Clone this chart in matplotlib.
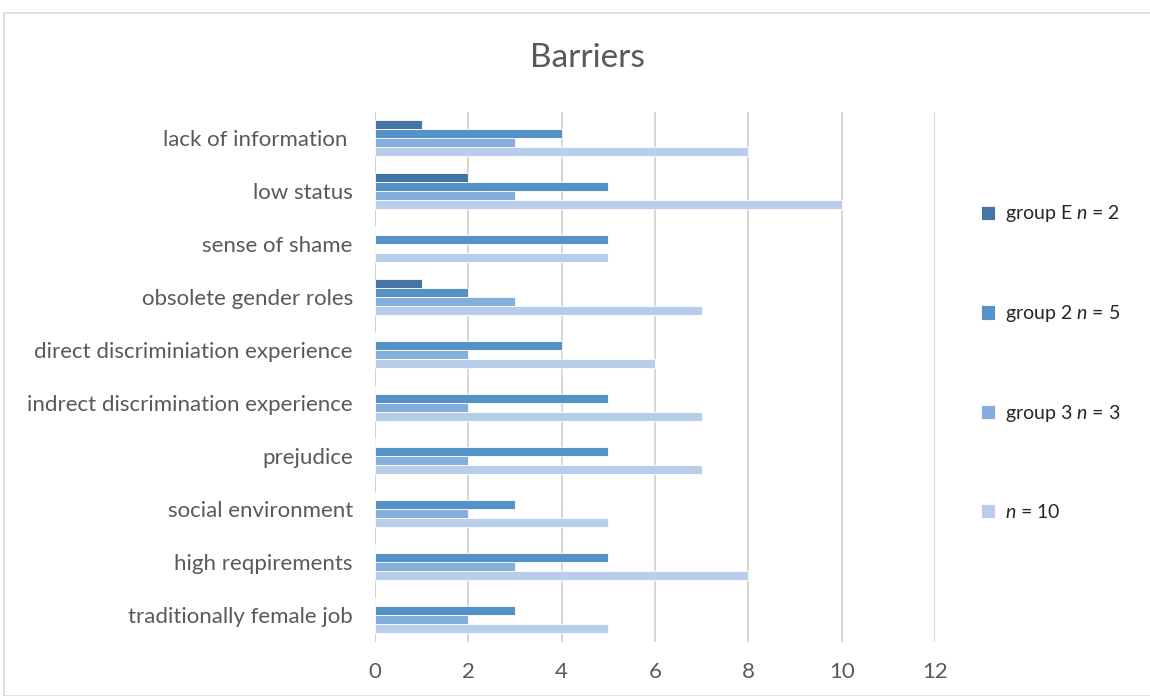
import numpy as np
import matplotlib
matplotlib.use('Agg')
import matplotlib.pyplot as plt
from matplotlib.patches import Rectangle

plt.rcParams['font.family'] = ['Lato', 'DejaVu Sans']
plt.rcParams['mathtext.fontset'] = 'custom'
plt.rcParams['mathtext.it'] = 'Lato:italic'
plt.rcParams['mathtext.rm'] = 'Lato'

categories = ['lack of information ', 'low status', 'sense of shame', 'obsolete gender roles',
              'direct discriminiation experience', 'indrect discrimination experience',
              'prejudice', 'social environment', 'high reqpirements', 'traditionally female job']
group_e = [1, 2, 0, 1, 0, 0, 0, 0, 0, 0]
group_2 = [4, 5, 5, 2, 4, 5, 5, 3, 5, 3]
group_3 = [3, 3, 0, 3, 2, 2, 2, 2, 3, 2]
n_10 = [8, 10, 5, 7, 6, 7, 7, 5, 8, 5]
labels = [r'group E $\mathit{n}$ = 2', r'group 2 $\mathit{n}$ = 5',
          r'group 3 $\mathit{n}$ = 3', r'$\mathit{n}$ = 10']
colors = ['#4674a5', '#5592c8', '#84afdc', '#b8cde9']

fig = plt.figure(figsize=(11.5, 6.96), dpi=100)
fig.patches.append(Rectangle((4/1150, 0), 1.2, 1-13/696, transform=fig.transFigure,
                             fill=False, edgecolor='#d9d9d9', lw=1.2))
ax = fig.add_axes([375/1150, 1-641.5/696, 560/1150, 530/696])

y = np.arange(len(categories))
h = 0.17
series = [group_e, group_2, group_3, n_10]
for k, vals in enumerate(series):
    ax.barh(y + (k-1.5)*h, vals, height=h, color=colors[k], edgecolor='white',
            linewidth=0.6, label=labels[k], zorder=3)

ax.set_xlim(0, 12)
ax.set_ylim(len(categories)-0.5, -0.5)
ax.set_xticks(range(0, 13, 2))
ax.set_yticks(y)
ax.set_yticklabels(categories)
ax.tick_params(axis='both', length=0, labelsize=16, colors='#595959')
ax.tick_params(axis='y', pad=16)
ax.tick_params(axis='x', pad=15)
ax.grid(axis='x', color='#d0d0d0', lw=1.2, zorder=0)
for s in ax.spines.values():
    s.set_visible(False)
ax.axvline(0, color='#d0d0d0', lw=1.2, zorder=1)

fig.text(587/1150, 1-58/696, 'Barriers', ha='center', va='center', fontsize=24, color='#595959')

leg = ax.legend(loc='upper left', bbox_to_anchor=(963/1150, 1-186/696), bbox_transform=fig.transFigure,
                frameon=False, fontsize=14, labelspacing=4.05, handlelength=0.75, handleheight=0.75,
                handletextpad=0.5)
for t in leg.get_texts():
    t.set_color('#262626')

fig.savefig('out.png', dpi=100)
